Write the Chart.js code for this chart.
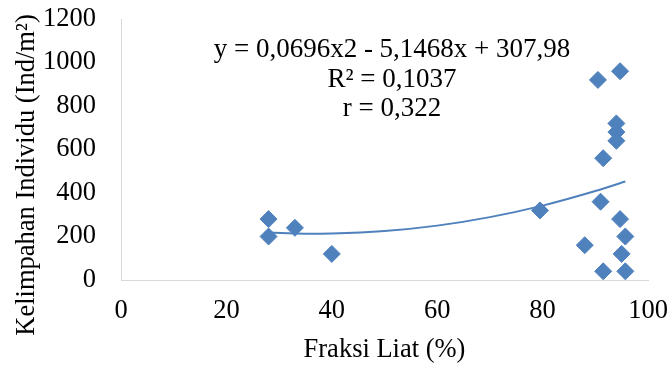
<!DOCTYPE html>
<html>
<head>
<meta charset="utf-8">
<script src="https://cdn.jsdelivr.net/npm/chart.js@4"></script>
<style>
  html, body { margin: 0; padding: 0; background: #ffffff; }
  #wrap { width: 670px; height: 367px; position: relative; }
</style>
</head>
<body>
<div id="wrap"><canvas id="c" width="670" height="367"></canvas></div>
<script>
// ---- data ----
const fraksiLiat = [28, 28, 33, 40, 79.5, 88, 90.5, 91, 91.5, 91.5, 94, 94, 94, 94.7, 94.7, 95, 95.7, 95.7];
const kelimpahan = [280, 200, 240, 120, 320, 160, 920, 360, 560, 40, 720, 680, 640, 960, 280, 120, 200, 40];
// polynomial (order 2) trendline
const trendX = [28, 35, 40, 50, 60, 70, 80, 90, 95.7];
const trendY = [218, 213, 214, 225, 250, 289, 342, 409, 453];
const xTicks = [0, 20, 40, 60, 80, 100];
const yTicks = [0, 200, 400, 600, 800, 1000, 1200];
const equationLines = ['y = 0,0696x2 - 5,1468x + 307,98', 'R\u00B2 = 0,1037', 'r = 0,322'];
const xTitle = 'Fraksi Liat (%)';
const yTitle = 'Kelimpahan Individu (Ind/m\u00B2)';

const FONT = '"Liberation Serif", "Times New Roman", serif';
const FS = 26.5;
const BLUE = '#4F81BD';
const AXIS = '#d9d9d9';

const scatterPts = fraksiLiat.map((x, i) => ({ x: x, y: kelimpahan[i] }));
const trendPts = trendX.map((x, i) => ({ x: x, y: trendY[i] }));

const textPlugin = {
  id: 'texts',
  afterDraw(chart) {
    const ctx = chart.ctx;
    ctx.save();
    ctx.fillStyle = '#000000';
    ctx.font = '27px ' + FONT;
    ctx.textAlign = 'center';
    ctx.textBaseline = 'alphabetic';
    const eqX = 392;
    const eqBase = [57, 86.5, 116];
    equationLines.forEach((t, i) => ctx.fillText(t, eqX, eqBase[i]));
    // y-axis title (rotated)
    ctx.font = FS + 'px ' + FONT;
    ctx.translate(34, 175);
    ctx.rotate(-Math.PI / 2);
    ctx.fillText(yTitle, 0, 0);
    ctx.restore();
  }
};

new Chart(document.getElementById('c'), {
  type: 'scatter',
  data: {
    datasets: [
      {
        label: 'data',
        data: scatterPts,
        pointStyle: 'rectRot',
        pointRadius: 8.5,
        pointBorderWidth: 1,
        backgroundColor: BLUE,
        borderColor: BLUE,
        order: 1
      },
      {
        label: 'trend',
        type: 'line',
        data: trendPts,
        showLine: true,
        pointRadius: 0,
        borderColor: BLUE,
        borderWidth: 2,
        fill: false,
        cubicInterpolationMode: 'monotone',
        order: 2
      }
    ]
  },
  options: {
    responsive: false,
    animation: false,
    events: [],
    layout: { padding: { left: 0, right: 22, top: 19, bottom: 0 } },
    plugins: { legend: { display: false }, tooltip: { enabled: false } },
    scales: {
      x: {
        type: 'linear',
        min: 0, max: 100,
        afterBuildTicks: s => { s.ticks = xTicks.map(v => ({ value: v })); },
        grid: { display: false, drawTicks: false, tickLength: 0 },
        border: { display: true, color: AXIS, width: 1 },
        ticks: { color: '#000', padding: 15, font: { family: FONT, size: FS }, maxRotation: 0,
                 callback: v => String(v) },
        title: { display: true, text: xTitle, color: '#000', font: { family: FONT, size: FS }, padding: { top: 0, bottom: 1 } },
        afterFit: s => { s.height = 87; s.paddingLeft = 0; s.paddingRight = 0; }
      },
      y: {
        type: 'linear',
        min: 0, max: 1200,
        afterBuildTicks: s => { s.ticks = yTicks.map(v => ({ value: v })); },
        grid: { display: false, drawTicks: false, tickLength: 0 },
        border: { display: true, color: AXIS, width: 1 },
        ticks: { color: '#000', padding: 25, font: { family: FONT, size: FS },
                 callback: v => String(v) },
        afterFit: s => { s.width = 121; s.paddingTop = 0; s.paddingBottom = 0; }
      }
    }
  },
  plugins: [textPlugin]
});
</script>
</body>
</html>
